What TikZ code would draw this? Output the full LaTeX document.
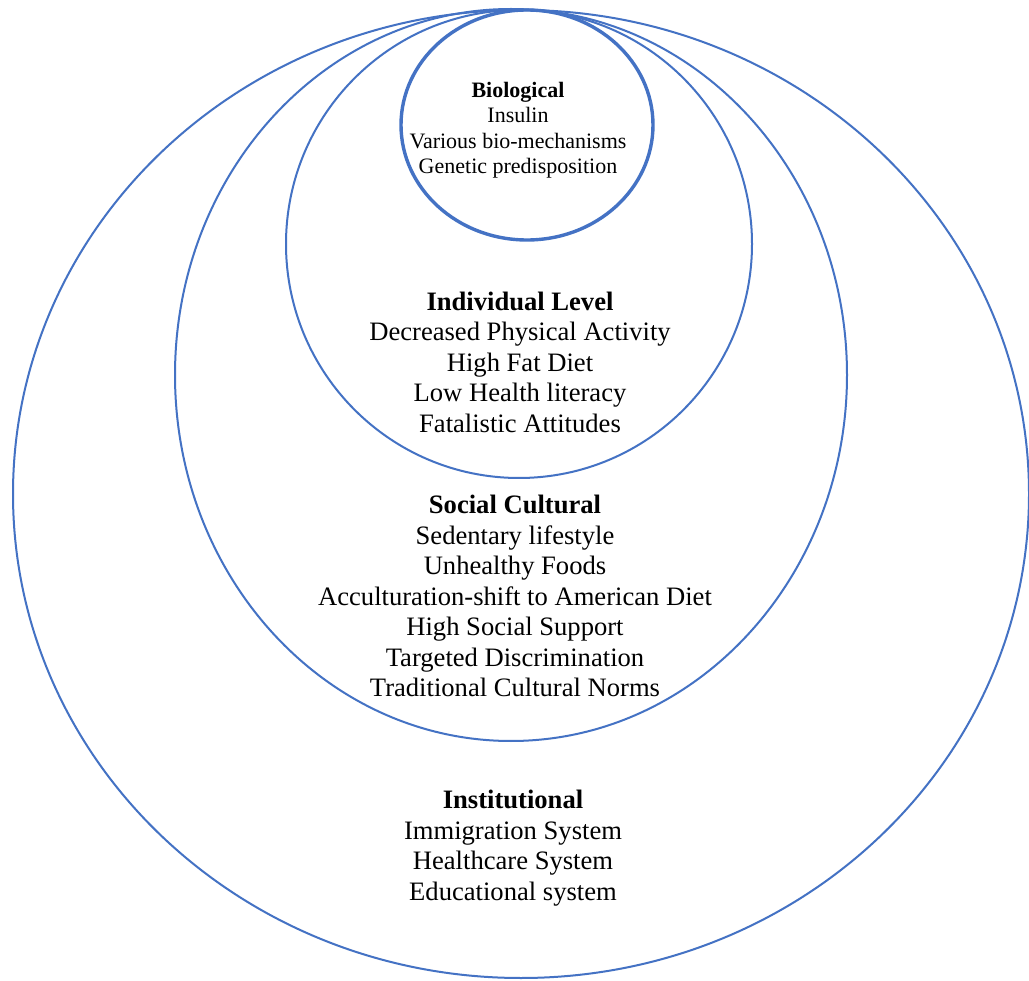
\documentclass[tikz,border=0pt]{standalone}
\usepackage{fontspec}
\setmainfont{Liberation Serif}
\definecolor{ringblue}{RGB}{68,114,196}
\tikzset{
  ring/.style={draw=ringblue, line width=2pt},
  biorung/.style={draw=ringblue, line width=3.4pt},
  bigtxt/.style={align=center, font=\fontsize{26.6}{30.5}\selectfont, inner sep=0pt},
  smalltxt/.style={align=center, font=\fontsize{22}{25.5}\selectfont, inner sep=0pt}
}
\begin{document}
\begin{tikzpicture}[x=1pt,y=-1pt]
\useasboundingbox (0,0) rectangle (1029,981);
\fill[white] (0,0) rectangle (1029,981);
\draw[ring] (521,494) ellipse [x radius=508, y radius=484];
\draw[ring] (511,375) ellipse [x radius=336, y radius=366];
\draw[ring] (519,244) ellipse [x radius=233, y radius=234];
\draw[biorung] (527,125) ellipse [x radius=126, y radius=115];
\node[smalltxt] (bio) at (518,130) {\textbf{Biological}\\Insulin\\Various bio-mechanisms\\Genetic predisposition};
\node[bigtxt] (ind) at (520,362) {\textbf{Individual Level}\\Decreased Physical Activity\\High Fat Diet\\Low Health literacy\\Fatalistic Attitudes};
\node[bigtxt] (soc) at (515,596) {\textbf{Social Cultural}\\Sedentary lifestyle\\Unhealthy Foods\\Acculturation-shift to American Diet\\High Social Support\\Targeted Discrimination\\Traditional Cultural Norms};
\node[bigtxt] (inst) at (513,848) {\textbf{Institutional}\\Immigration System\\Healthcare System\\Educational system};
\end{tikzpicture}
\end{document}
